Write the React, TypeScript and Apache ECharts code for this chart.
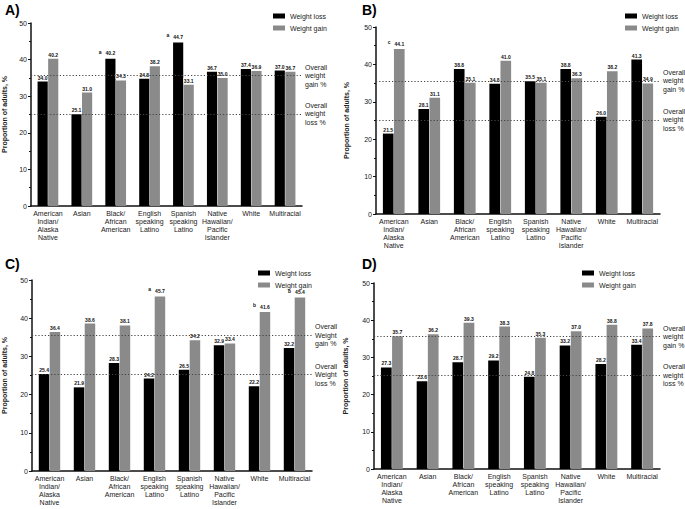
import React, { useEffect, useRef } from "react";
import * as echarts from "echarts";

const categories = [
  "American\nIndian/\nAlaska\nNative",
  "Asian",
  "Black/\nAfrican\nAmerican",
  "English\nspeaking\nLatino",
  "Spanish\nspeaking\nLatino",
  "Native\nHawaiian/\nPacific\nIslander",
  "White",
  "Multiracial",
];

const lossA = [34.0, 25.1, 40.2, 34.8, 44.7, 36.7, 37.4, 37.0];
const gainA = [40.2, 31.0, 34.3, 38.2, 33.1, 35.0, 36.9, 36.7];
const lossNoteA = ["", "", "a", "", "a", "", "", ""];
const gainNoteA = ["", "", "", "", "", "", "", ""];

const lossB = [21.5, 28.1, 38.8, 34.8, 35.5, 38.8, 26.0, 41.3];
const gainB = [44.1, 31.1, 35.1, 41.0, 35.1, 36.3, 38.2, 34.9];
const lossNoteB = ["", "", "", "", "", "", "", ""];
const gainNoteB = ["c", "", "", "", "", "", "", ""];

const lossC = [25.4, 21.9, 28.3, 24.2, 26.5, 32.9, 22.2, 32.2];
const gainC = [36.4, 38.6, 38.1, 45.7, 34.2, 33.4, 41.6, 45.4];
const lossNoteC = ["", "", "", "", "", "", "", ""];
const gainNoteC = ["", "", "", "a", "", "", "b", "b"];

const lossD = [27.3, 23.6, 28.7, 29.2, 24.8, 33.2, 28.2, 33.4];
const gainD = [35.7, 36.2, 39.3, 38.3, 35.3, 37.0, 38.8, 37.8];
const lossNoteD = ["", "", "", "", "", "", "", ""];
const gainNoteD = ["", "", "", "", "", "", "", ""];

const overallGain = 35.6;
const overallLoss = 25.2;

const panelTitles = ["A)", "B)", "C)", "D)"];
const gainLineLabels = [
  "Overall\nweight\ngain %",
  "Overall\nweight\ngain %",
  "Overall\nWeight\ngain %",
  "Overall\nweight\ngain %",
];
const lossLineLabels = [
  "Overall\nweight\nloss %",
  "Overall\nweight\nloss %",
  "Overall\nWeight\nloss %",
  "Overall\nweight\nloss %",
];

const FONT = "'Liberation Sans', Arial, Helvetica, sans-serif";

const panels = [
  { loss: lossA, gain: gainA, ln: lossNoteA, gn: gainNoteA },
  { loss: lossB, gain: gainB, ln: lossNoteB, gn: gainNoteB },
  { loss: lossC, gain: gainC, ln: lossNoteC, gn: gainNoteC },
  { loss: lossD, gain: gainD, ln: lossNoteD, gn: gainNoteD },
];

const grids = [
  { left: 30, top: 23, width: 272, height: 183 },
  { left: 376, top: 27, width: 284, height: 187 },
  { left: 31, top: 280, width: 281, height: 191 },
  { left: 374, top: 283, width: 286, height: 186 },
];
const nameGaps = [23, 26, 24, 25];
const legendPos = [
  { left: 268, top: 7 },
  { left: 620, top: 7 },
  { left: 253, top: 264 },
  { left: 577, top: 264 },
];
const titlePos = [
  { x: 5, y: 3 },
  { x: 362, y: 3 },
  { x: 5, y: 257 },
  { x: 362, y: 257 },
];

function makeLabel(notes: string[]) {
  return {
    show: true,
    position: "top",
    distance: 1.5,
    backgroundColor: "#fff",
    padding: [0.5, 0.5, 0, 0.5],
    formatter: (p: any) => {
      const a = notes[p.dataIndex];
      const v = Number(p.value).toFixed(1);
      return a ? `{s|${a}}{v|${v}}{h|${a}}` : `{v|${v}}`;
    },
    rich: {
      v: { fontSize: 5, fontWeight: "bold", color: "#111", fontFamily: FONT },
      s: {
        fontSize: 5,
        fontWeight: "bold",
        color: "#111",
        fontFamily: FONT,
        padding: [0, 4, 3, 0],
      },
      h: {
        fontSize: 5,
        fontWeight: "bold",
        color: "rgba(0,0,0,0)",
        fontFamily: FONT,
        padding: [0, 0, 3, 4],
      },
    },
  };
}

export default function App() {
  const ref = useRef<HTMLDivElement>(null);
  useEffect(() => {
    document.body.style.margin = "0";
    const chart = echarts.init(ref.current!, null, { renderer: "svg" });
    const series: any[] = [];
    panels.forEach((p, i) => {
      series.push({
        type: "bar",
        name: "Weight loss",
        xAxisIndex: i,
        yAxisIndex: i,
        data: p.loss,
        barWidth: "30%",
        barGap: "4%",
        z: 2,
        itemStyle: { color: "#000" },
        label: makeLabel(p.ln),
        markLine: {
          silent: true,
          symbol: "none",
          lineStyle: { type: [1.2, 2], color: "#444", width: 1 },
          label: {
            show: true,
            position: "end",
            distance: 3,
            fontSize: 7,
            lineHeight: 8.5,
            color: "#222",
            fontFamily: FONT,
            align: "left",
            formatter: (d: any) =>
              d.value === overallGain ? gainLineLabels[i] : lossLineLabels[i],
          },
          data: [{ yAxis: overallGain }, { yAxis: overallLoss }],
        },
      });
      series.push({
        type: "bar",
        name: "Weight gain",
        xAxisIndex: i,
        yAxisIndex: i,
        data: p.gain,
        barWidth: "30%",
        barGap: "4%",
        z: 3,
        itemStyle: { color: "#8a8a8a" },
        label: makeLabel(p.gn),
      });
    });

    chart.setOption({
      animation: false,
      backgroundColor: "#fff",
      textStyle: { fontFamily: FONT },
      grid: grids.map((g) => ({ ...g, containLabel: false })),
      legend: legendPos.map((lp) => ({
        ...lp,
        orient: "vertical",
        icon: "rect",
        itemWidth: 12,
        itemHeight: 5,
        itemGap: 4,
        selectedMode: false,
        textStyle: { fontSize: 7, lineHeight: 8, color: "#222", fontFamily: FONT },
        data: ["Weight loss", "Weight gain"],
      })),
      xAxis: grids.map((_, i) => ({
        type: "category",
        gridIndex: i,
        data: categories,
        axisTick: { show: false },
        axisLine: { lineStyle: { color: "#111", width: 1.5 } },
        axisLabel: {
          interval: 0,
          fontSize: 7,
          lineHeight: 7.8,
          color: "#222",
          margin: 4,
          fontFamily: FONT,
        },
      })),
      yAxis: grids.map((_, i) => ({
        type: "value",
        gridIndex: i,
        min: 0,
        max: 50,
        interval: 10,
        name: "Proportion of adults, %",
        nameLocation: "middle",
        nameGap: nameGaps[i],
        nameTextStyle: {
          fontSize: 7,
          fontWeight: "bold",
          color: "#222",
          fontFamily: FONT,
        },
        splitLine: { show: false },
        axisLine: { show: true, lineStyle: { color: "#111", width: 1.5 } },
        axisTick: { show: true, length: 3, lineStyle: { color: "#111", width: 1 } },
        minorTick: { show: true, splitNumber: 2, length: 2, lineStyle: { color: "#111" } },
        axisLabel: { fontSize: 7, color: "#222", margin: 4, fontFamily: FONT },
      })),
      graphic: titlePos.map((tp, i) => ({
        type: "text",
        x: tp.x,
        y: tp.y,
        style: {
          text: panelTitles[i],
          fontSize: 14,
          fontWeight: "bold",
          fill: "#000",
          fontFamily: FONT,
        },
      })),
      series,
    });
    return () => chart.dispose();
  }, []);
  return (
    <div
      ref={ref}
      style={{ position: "fixed", left: 0, top: 0, width: 685, height: 509 }}
    />
  );
}
